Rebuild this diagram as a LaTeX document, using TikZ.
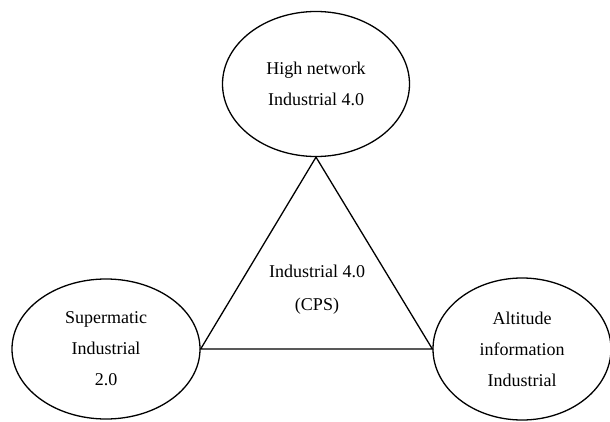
\documentclass[tikz,border=0pt]{standalone}
\usepackage{fontspec}
\setmainfont{Liberation Serif}
\usetikzlibrary{shapes.geometric}
\tikzset{
  bubble/.style={draw, ellipse, line width=1.3pt, inner sep=0pt, align=center,
    font=\fontsize{18}{31}\selectfont},
  label/.style={align=center, font=\fontsize{18}{33}\selectfont},
  edge/.style={line width=1.3pt, line join=miter}
}
\begin{document}
\begin{tikzpicture}[x=1pt,y=1pt]
\useasboundingbox (0,0) rectangle (610,421);
\node[bubble, minimum width=187pt, minimum height=145pt] (top) at (316,337) {High network\\Industrial 4.0};
\node[bubble, minimum width=188pt, minimum height=140pt] (left) at (106,72) {Supermatic\\Industrial\\2.0};
\node[bubble, minimum width=178pt, minimum height=142pt] (right) at (522,72) {Altitude\\information\\Industrial};
\draw[edge] (top.south) -- (left.east) -- (right.west) -- cycle;
\node[label] (core) at (317,131) {Industrial 4.0\\(CPS)};
\end{tikzpicture}
\end{document}
